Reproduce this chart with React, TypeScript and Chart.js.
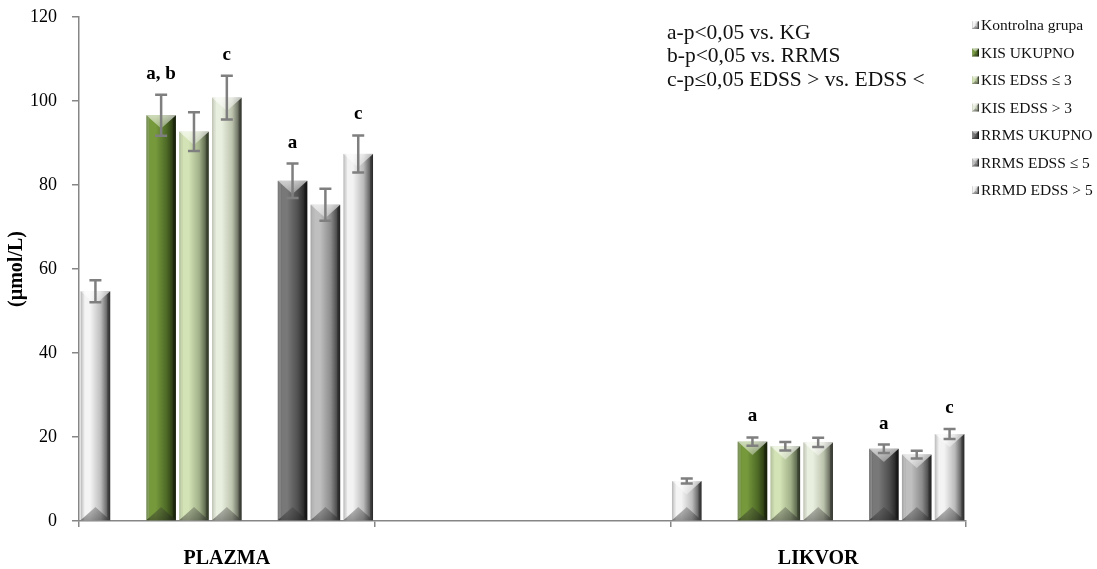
import { useEffect, useRef } from "react";
import { Chart, registerables } from "chart.js";

Chart.register(...registerables);

// Categories on the x axis (the middle one is an empty spacer category)
const groups = ["PLAZMA", "", "LIKVOR"];

// Series names shown in the legend
const seriesNames = [
  "Kontrolna grupa",
  "KIS UKUPNO",
  "KIS EDSS ≤ 3",
  "KIS EDSS > 3",
  "RRMS UKUPNO",
  "RRMS EDSS ≤ 5",
  "RRMD EDSS > 5",
];

// Mean values (µmol/L) per category
const kontrolna = [54.7, null, 9.5];
const kisUkupno = [96.6, null, 18.9];
const kisLe3 = [92.7, null, 17.8];
const kisGt3 = [100.8, null, 18.7];
const rrmsUkupno = [81.0, null, 17.2];
const rrmsLe5 = [75.3, null, 15.8];
const rrmdGt5 = [87.4, null, 20.7];

// Error (± SE) per category
const kontrolnaErr = [2.6, null, 0.6];
const kisUkupnoErr = [4.9, null, 1.0];
const kisLe3Err = [4.6, null, 1.0];
const kisGt3Err = [5.2, null, 1.1];
const rrmsUkupnoErr = [4.1, null, 1.0];
const rrmsLe5Err = [3.8, null, 0.9];
const rrmdGt5Err = [4.4, null, 1.2];

// Significance marks above bars
const kontrolnaSig = ["", "", ""];
const kisUkupnoSig = ["a, b", "", "a"];
const kisLe3Sig = ["", "", ""];
const kisGt3Sig = ["c", "", ""];
const rrmsUkupnoSig = ["a", "", "a"];
const rrmsLe5Sig = ["", "", ""];
const rrmdGt5Sig = ["c", "", "c"];

// Footnote lines
const noteLines = ["a-p<0,05 vs. KG", "b-p<0,05 vs. RRMS", "c-p≤0,05 EDSS > vs. EDSS <"];

const yTicks = { min: 0, max: 120, step: 20 };

// Face gradient colours: [left edge, highlight, middle, right edge]
const palettes: string[][] = [
  ["#a2a2a2", "#f4f4f4", "#bdbdbd", "#3c3c3c"],
  ["#4d6a24", "#76993c", "#4e6a26", "#1c280b"],
  ["#97ab78", "#d3e3b5", "#a2b189", "#3d4731"],
  ["#a9b09a", "#e9efdf", "#bcc3ad", "#41453a"],
  ["#4e4e4e", "#787878", "#505050", "#171717"],
  ["#888888", "#bfbfbf", "#8c8c8c", "#2c2c2c"],
  ["#a6a6a6", "#f3f3f3", "#bababa", "#363636"],
];

const SERIF = "'Liberation Serif', 'Times New Roman', serif";
const AXIS_GRAY = "#868686";

type Series = { name: string; values: (number | null)[]; err: (number | null)[]; sig: string[]; pal: string[] };

const series: Series[] = [
  { name: seriesNames[0], values: kontrolna, err: kontrolnaErr, sig: kontrolnaSig, pal: palettes[0] },
  { name: seriesNames[1], values: kisUkupno, err: kisUkupnoErr, sig: kisUkupnoSig, pal: palettes[1] },
  { name: seriesNames[2], values: kisLe3, err: kisLe3Err, sig: kisLe3Sig, pal: palettes[2] },
  { name: seriesNames[3], values: kisGt3, err: kisGt3Err, sig: kisGt3Sig, pal: palettes[3] },
  { name: seriesNames[4], values: rrmsUkupno, err: rrmsUkupnoErr, sig: rrmsUkupnoSig, pal: palettes[4] },
  { name: seriesNames[5], values: rrmsLe5, err: rrmsLe5Err, sig: rrmsLe5Sig, pal: palettes[5] },
  { name: seriesNames[6], values: rrmdGt5, err: rrmdGt5Err, sig: rrmdGt5Sig, pal: palettes[6] },
];

// Bar slots: control, gap, three KIS bars, gap, three RRMS bars
const slotOrder: (number | null)[] = [0, null, 1, 2, 3, null, 4, 5, 6];

function drawBevel(ctx: CanvasRenderingContext2D, L: number, T: number, R: number, B: number, pal: string[]) {
  const w = R - L;
  const h = B - T;
  if (w <= 0 || h <= 0) return;
  const g = ctx.createLinearGradient(L, 0, R, 0);
  g.addColorStop(0, pal[0]);
  g.addColorStop(0.14, pal[1]);
  g.addColorStop(0.32, pal[1]);
  g.addColorStop(0.68, pal[2]);
  g.addColorStop(1, pal[3]);
  ctx.fillStyle = g;
  ctx.fillRect(L, T, w, h);

  const d = Math.min(w * 0.45, h / 2);
  const e = Math.min(3, w / 6);
  // left edge highlight
  ctx.fillStyle = "rgba(255,255,255,0.22)";
  ctx.beginPath();
  ctx.moveTo(L, T);
  ctx.lineTo(L + e, T + e);
  ctx.lineTo(L + e, B - e);
  ctx.lineTo(L, B);
  ctx.closePath();
  ctx.fill();
  // right edge shade
  ctx.fillStyle = "rgba(0,0,0,0.25)";
  ctx.beginPath();
  ctx.moveTo(R, T);
  ctx.lineTo(R - e, T + e);
  ctx.lineTo(R - e, B - e);
  ctx.lineTo(R, B);
  ctx.closePath();
  ctx.fill();
  // top facet
  const tg = ctx.createLinearGradient(0, T, 0, T + d);
  tg.addColorStop(0, "rgba(255,255,255,0.65)");
  tg.addColorStop(1, "rgba(255,255,255,0.35)");
  ctx.fillStyle = tg;
  ctx.beginPath();
  ctx.moveTo(L, T);
  ctx.lineTo(R, T);
  ctx.lineTo(L + w / 2, T + d);
  ctx.closePath();
  ctx.fill();
  // bottom facet
  const bg = ctx.createLinearGradient(0, B - d, 0, B);
  bg.addColorStop(0, "rgba(50,50,50,0.3)");
  bg.addColorStop(1, "rgba(30,30,30,0.45)");
  ctx.fillStyle = bg;
  ctx.beginPath();
  ctx.moveTo(L, B);
  ctx.lineTo(R, B);
  ctx.lineTo(L + w / 2, B - d);
  ctx.closePath();
  ctx.fill();
}

const bevelPlugin = {
  id: "bevelBars",
  afterDatasetsDraw(chart: any) {
    const ctx: CanvasRenderingContext2D = chart.ctx;
    const yScale = chart.scales.y;
    const eachBar = (fn: (s: Series, i: number, el: any) => void) => {
      chart.data.datasets.forEach((_ds: any, di: number) => {
        const si = slotOrder[di];
        if (si === null || si === undefined) return;
        const s = series[si];
        const meta = chart.getDatasetMeta(di);
        meta.data.forEach((el: any, i: number) => {
          const v = s.values[i];
          if (v === null || v === undefined) return;
          fn(s, i, el);
        });
      });
    };
    ctx.save();
    eachBar((s, i, el) => {
      const { x, y, base, width } = el.getProps(["x", "y", "base", "width"], true);
      drawBevel(ctx, x - width / 2, y, x + width / 2, base, s.pal);
    });
    // error bars
    ctx.strokeStyle = "#7f7f7f";
    ctx.lineWidth = 2.5;
    eachBar((s, i, el) => {
      const v = s.values[i] as number;
      const e = s.err[i];
      if (e === null || e === undefined) return;
      const x = el.getProps(["x"], true).x;
      const yHi = yScale.getPixelForValue(v + e);
      const yLo = yScale.getPixelForValue(v - e);
      ctx.beginPath();
      ctx.moveTo(x, yHi);
      ctx.lineTo(x, yLo);
      ctx.moveTo(x - 6, yHi);
      ctx.lineTo(x + 6, yHi);
      ctx.moveTo(x - 6, yLo);
      ctx.lineTo(x + 6, yLo);
      ctx.stroke();
    });
    // significance marks
    ctx.fillStyle = "#000";
    ctx.font = `bold 19px ${SERIF}`;
    ctx.textAlign = "center";
    ctx.textBaseline = "alphabetic";
    eachBar((s, i, el) => {
      const label = s.sig[i];
      if (!label) return;
      const v = s.values[i] as number;
      const x = el.getProps(["x"], true).x;
      const top = yScale.getPixelForValue(v + (s.err[i] || 0));
      ctx.fillText(label, x, top - 16);
    });
    ctx.restore();
  },
  afterDraw(chart: any) {
    const ctx: CanvasRenderingContext2D = chart.ctx;
    ctx.save();
    // footnote
    ctx.fillStyle = "#111";
    ctx.font = `21.5px ${SERIF}`;
    ctx.textAlign = "left";
    ctx.textBaseline = "middle";
    noteLines.forEach((t, i) => ctx.fillText(t, 667, 33 + i * 23.5));
    // legend
    ctx.font = `15.5px ${SERIF}`;
    series.forEach((s, i) => {
      const cy = 25 + i * 27.5;
      drawBevel(ctx, 972, cy - 4, 979, cy + 4, s.pal);
      ctx.fillStyle = "#111";
      ctx.fillText(s.name, 981, cy + 1);
    });
    ctx.restore();
  },
};

export default function App() {
  const canvasRef = useRef<HTMLCanvasElement | null>(null);

  useEffect(() => {
    const canvas = canvasRef.current;
    if (!canvas) return;
    const datasets = slotOrder.map((si) => ({
      label: si === null ? "" : series[si].name,
      data: si === null ? groups.map(() => null) : series[si].values,
      backgroundColor: "rgba(0,0,0,0)",
      borderWidth: 0,
      categoryPercentage: 1,
      barPercentage: 0.9,
    }));
    const chart = new Chart(canvas, {
      type: "bar",
      data: { labels: groups, datasets },
      options: {
        responsive: false,
        animation: false,
        devicePixelRatio: 1,
        layout: { padding: { left: 0, right: 131, top: 17, bottom: 0 } },
        plugins: { legend: { display: false }, tooltip: { enabled: false } },
        scales: {
          x: {
            offset: true,
            grid: { offset: true, drawOnChartArea: false, tickLength: 6, color: AXIS_GRAY, lineWidth: 1.5 },
            border: { color: AXIS_GRAY, width: 1.5 },
            ticks: { font: { family: SERIF, size: 20, weight: "bold" }, color: "#000", padding: 20 },
            afterFit: (scale: any) => {
              scale.height = 48;
            },
          },
          y: {
            min: yTicks.min,
            max: yTicks.max,
            grid: { drawOnChartArea: false, tickLength: 7, color: AXIS_GRAY, lineWidth: 1.5 },
            border: { color: AXIS_GRAY, width: 1.5 },
            ticks: { stepSize: yTicks.step, font: { family: SERIF, size: 18 }, color: "#000", padding: 15 },
            title: {
              display: true,
              text: "(µmol/L)",
              font: { family: SERIF, size: 20, weight: "bold" },
              color: "#000",
              padding: { top: 5, bottom: 0 },
            },
            afterFit: (scale: any) => {
              scale.width = 79;
              scale.paddingTop = 0;
              scale.paddingBottom = 0;
            },
          },
        },
      },
      plugins: [bevelPlugin],
    });
    return () => chart.destroy();
  }, []);

  return (
    <div style={{ position: "absolute", left: 0, top: 0, width: 1097, height: 569, background: "#fff" }}>
      <canvas ref={canvasRef} width={1097} height={569} style={{ display: "block" }} />
    </div>
  );
}
